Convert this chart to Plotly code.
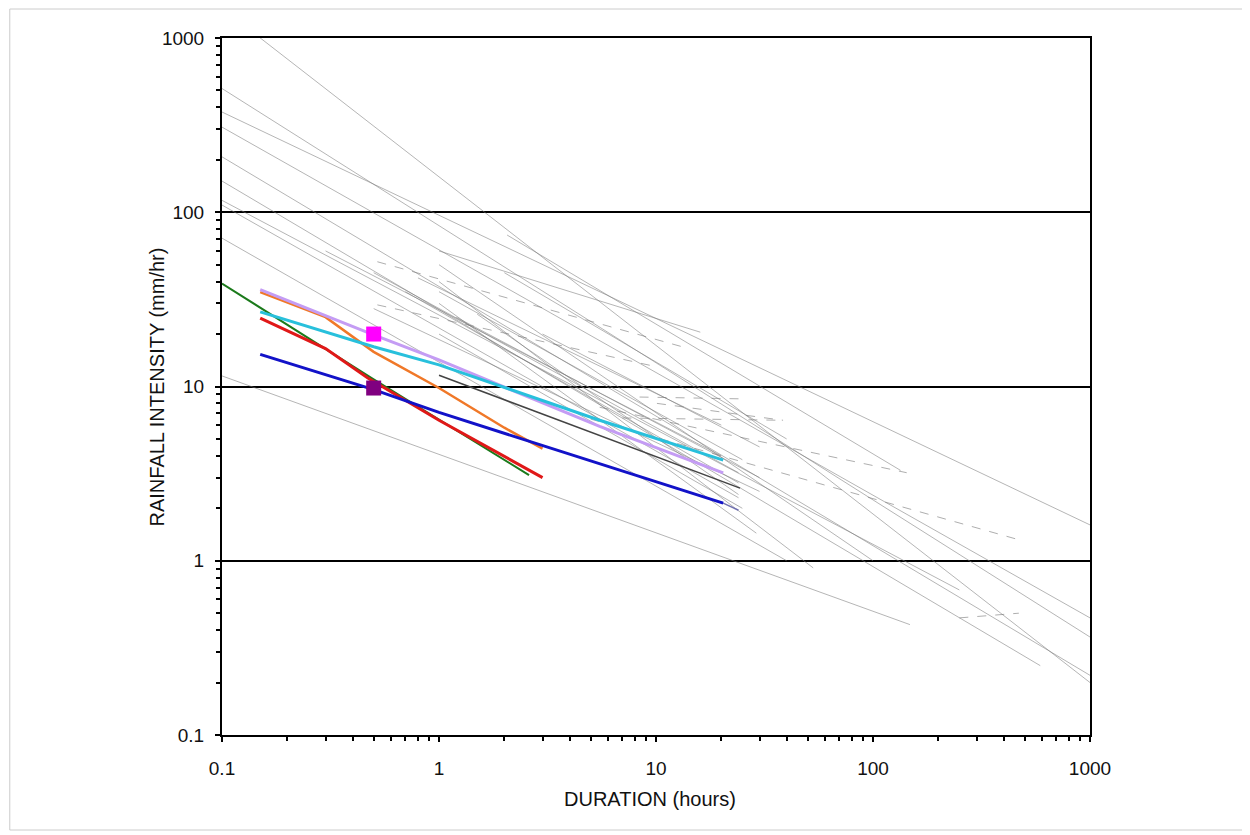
import plotly.graph_objects as go

# ---------------- data (duration in hours, intensity in mm/hr) ----------------
# grey reference IDF lines: start/end duration and intensity
grey_d0 = [0.14, 0.1, 0.1, 0.1, 0.1, 0.1, 0.1, 0.1, 0.1, 0.1, 2.06, 0.5, 1.0, 0.5, 1.0, 1.0, 0.3, 1.0, 0.7, 1.5,
           1.0, 0.8, 1.2, 3.0, 2.0, 1.0]
grey_i0 = [1070, 513, 376, 308, 208, 151, 117, 110, 71, 11.5, 74, 45, 20, 28, 40, 30, 60, 50, 35, 26,
           35, 42, 25, 20, 45, 60]
grey_d1 = [1000, 1000, 1050, 1000, 1000, 590, 250, 24, 40, 148, 134, 24, 25, 30, 53, 29, 20, 100, 24, 24,
           25, 20, 30, 30, 40, 16]
grey_i1 = [0.20, 0.365, 1.56, 0.47, 0.22, 0.25, 0.68, 2.3, 1.0, 0.43, 3.3, 3.2, 2.0, 2.5, 0.91, 1.44, 4.0, 1.0, 2.8, 2.4,
           3.8, 6.0, 3.0, 4.5, 5.0, 20.5]

# grey dashed lines
dash_d0 = [0.52, 0.52, 5.5, 5.0, 10.1, 8.4, 250, 7.0]
dash_i0 = [52, 29.4, 7.6, 6.5, 8.0, 8.7, 0.47, 6.6]
dash_d1 = [13, 10, 143, 491, 38.5, 24, 470, 38]
dash_i1 = [17, 13, 3.2, 1.3, 6.4, 8.5, 0.5, 6.4]

# highlighted series
green_d = [0.1, 0.5, 2.6]
green_i = [39, 11, 3.1]
red_d = [0.15, 0.3, 0.47, 1.0, 3.0]
red_i = [24.7, 16.5, 11.2, 6.4, 3.0]
orange_d = [0.15, 0.3, 0.5, 1.0, 2.0, 3.0]
orange_i = [34.8, 25, 15.8, 9.8, 5.8, 4.4]
lavender_d = [0.15, 0.5, 1.0, 5.5, 20.4]
lavender_i = [36, 19.8, 14.2, 5.9, 3.19]
cyan_d = [0.15, 0.5, 1.0, 5.5, 20.4]
cyan_i = [26.8, 16.9, 13.3, 6.4, 3.78]
blue_d = [0.15, 0.5, 1.0, 20.4]
blue_i = [15.3, 9.6, 7.1, 2.14]
blue_ext_d = [20.4, 24]
blue_ext_i = [2.14, 1.95]
dark_d = [1.0, 24.4]
dark_i = [11.6, 2.61]

marker_d = [0.5, 0.5]
marker_i = [20, 9.8]
marker_colors = ["#ff00ff", "#800080"]

x_title = "DURATION (hours)"
y_title = "RAINFALL INTENSITY (mm/hr)"

fig = go.Figure()

for d0, i0, d1, i1 in zip(grey_d0, grey_i0, grey_d1, grey_i1):
    fig.add_trace(go.Scatter(x=[d0, d1], y=[i0, i1], mode="lines",
                             line=dict(color="rgba(120,120,120,0.55)", width=1),
                             showlegend=False, hoverinfo="skip"))
for d0, i0, d1, i1 in zip(dash_d0, dash_i0, dash_d1, dash_i1):
    fig.add_trace(go.Scatter(x=[d0, d1], y=[i0, i1], mode="lines",
                             line=dict(color="rgba(120,120,120,0.6)", width=1, dash="dash"),
                             showlegend=False, hoverinfo="skip"))

fig.add_trace(go.Scatter(x=dark_d, y=dark_i, mode="lines",
                         line=dict(color="#444444", width=1.5), showlegend=False))
fig.add_trace(go.Scatter(x=blue_ext_d, y=blue_ext_i, mode="lines",
                         line=dict(color="#7070b0", width=1.5), showlegend=False))

series = [
    (green_d, green_i, "#1b7a1b", 2),
    (orange_d, orange_i, "#f07828", 2.5),
    (lavender_d, lavender_i, "#c49cf4", 3),
    (cyan_d, cyan_i, "#28c0dc", 3),
    (red_d, red_i, "#e01818", 3),
    (blue_d, blue_i, "#1212c8", 3),
]
for d, i, c, w in series:
    fig.add_trace(go.Scatter(x=d, y=i, mode="lines", line=dict(color=c, width=w),
                             showlegend=False))

fig.add_trace(go.Scatter(x=marker_d, y=marker_i, mode="markers",
                         marker=dict(symbol="square", size=15, color=marker_colors),
                         showlegend=False))

tickvals = [0.1, 1, 10, 100, 1000]
ticktext = ["0.1", "1", "10", "100", "1000"]
tickfont = dict(family="Liberation Sans, Arial, sans-serif", size=19, color="#111")
titlefont = dict(family="Liberation Sans, Arial, sans-serif", size=20, color="#111")

common = dict(type="log", range=[-1, 3], tickvals=tickvals, ticktext=ticktext,
              showline=True, linecolor="black", linewidth=2, mirror=True,
              ticks="outside", ticklen=5, tickcolor="black", tickwidth=2,
              minor=dict(dtick="D1", ticks="outside", ticklen=4, tickcolor="black",
                         tickwidth=1.5, showgrid=False),
              tickfont=tickfont, zeroline=False)

fig.update_xaxes(**common, showgrid=False, ticklabelstandoff=10)
fig.update_yaxes(**common, showgrid=True, gridcolor="black", gridwidth=2, ticklabelstandoff=7)

fig.update_layout(
    width=1240, height=825,
    margin=dict(l=214, r=158, t=30, b=98),
    paper_bgcolor="white", plot_bgcolor="white",
    shapes=[dict(type="rect", xref="paper", yref="paper",
                 x0=-0.2445, x1=1.1786, y0=-0.1363, y1=1.0416,
                 line=dict(color="#cccccc", width=1), layer="below")],
    annotations=[
        dict(text=x_title, xref="paper", yref="paper", x=0.493, y=-0.0925,
             showarrow=False, font=titlefont, xanchor="center", yanchor="middle"),
        dict(text=y_title, xref="paper", yref="paper", x=-0.0749, y=0.5,
             showarrow=False, font=titlefont, textangle=-90,
             xanchor="center", yanchor="middle"),
    ],
)

fig.write_html("out.html")
